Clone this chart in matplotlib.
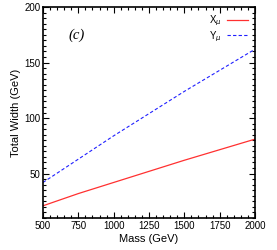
import numpy as np
import matplotlib.pyplot as plt
from matplotlib.ticker import MultipleLocator

# Values
mass = [500, 750, 1000, 1250, 1500, 1750, 2000]
width_x = [21, 32, 42, 52, 62, 71.5, 81]
width_y = [42, 63, 84, 104, 124, 143, 162]

plt.rcParams['font.family'] = ['Liberation Sans', 'DejaVu Sans']
plt.rcParams['mathtext.fontset'] = 'dejavusans'

fig = plt.figure(figsize=(2.77, 2.5), dpi=100)
ax = fig.add_axes([43 / 277, 1 - 218 / 250, 212 / 277, 211 / 250])

ax.plot(mass, width_x, '-', color='#ff3030', lw=0.9, label=r'X$_\mu$')
ax.plot(mass, width_y, '--', color='#2020ff', lw=0.8, dashes=(3, 2), label=r'Y$_\mu$')

ax.set_xlim(500, 2000)
ax.set_ylim(10, 200)
ax.xaxis.set_major_locator(MultipleLocator(250))
ax.xaxis.set_minor_locator(MultipleLocator(50))
ax.yaxis.set_major_locator(MultipleLocator(50))
ax.yaxis.set_minor_locator(MultipleLocator(5))
ax.tick_params(which='both', direction='in', top=True, right=True, labelsize=7, width=0.8)
ax.tick_params(which='major', length=4, pad=2)
ax.tick_params(which='minor', length=2)
for s in ax.spines.values():
    s.set_linewidth(1.2)

ax.set_xlabel('Mass (GeV)', fontsize=8, labelpad=2)
ax.set_ylabel('Total Width (GeV)', fontsize=8, labelpad=2)

ax.text(0.12, 0.85, '(c)', transform=ax.transAxes, fontsize=10.5, style='italic', family='Liberation Serif')

ax.legend(loc='upper right', frameon=False, markerfirst=False, fontsize=7,
          handlelength=2.2, handletextpad=0.5, labelspacing=0.1, borderaxespad=0.3)

fig.savefig('out.png', dpi=100)
